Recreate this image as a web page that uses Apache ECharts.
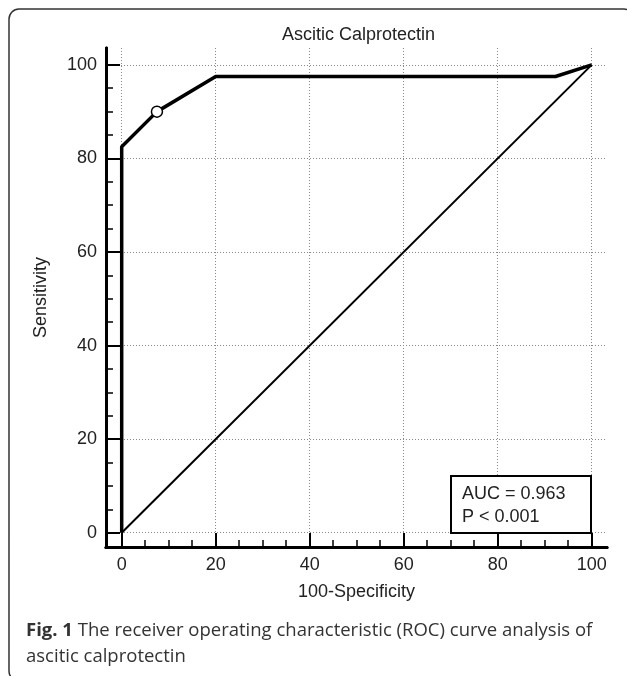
<!DOCTYPE html>
<html>
<head>
<meta charset="utf-8">
<script src="https://cdn.jsdelivr.net/npm/echarts@6/dist/echarts.min.js"></script>
<style>
  html, body { margin: 0; padding: 0; background: #fff; }
  #roc_chart { width: 627px; height: 676px; }
</style>
</head>
<body>
<div id="roc_chart"></div>
<script>
// ROC curve points: [100-Specificity, Sensitivity]
var rocX = [0, 0, 7.5, 20, 92.3, 100];
var rocY = [0, 82.5, 90, 97.5, 97.5, 100];
// reference diagonal
var diagX = [0, 100];
var diagY = [0, 100];
// selected cut-off point
var cutX = [7.5];
var cutY = [90];
var majorTicks = [0, 20, 40, 60, 80, 100];
var minorTicks = [];
for (var t = 0; t <= 100; t += 5) minorTicks.push(t);

var roc_chart = echarts.init(document.getElementById("roc_chart"));

function pairs(xs, ys) {
  return xs.map(function (x, i) { return [x, ys[i]]; });
}

var labelStyle = {
  color: "#222",
  fontFamily: "Liberation Sans, Arial",
  fontSize: 18,
};

function makeAxis(opts) {
  return Object.assign(
    {
      type: "value",
      axisLine: { show: true, onZero: false, lineStyle: { color: "#000", width: 3 } },
      axisLabel: { show: false },
      axisTick: { show: false },
      splitLine: { show: false },
    },
    opts
  );
}

var xMin = -3.34, xMax = 103.26;
var yMin = -3.06, yMax = 103.6;

var option = {
  animation: false,
  title: {
    text: "Ascitic Calprotectin",
    left: 277,
    top: 21,
    textStyle: { color: "#222", fontFamily: "Liberation Sans, Arial", fontSize: 18, fontWeight: "normal" },
  },
  grid: { left: 106, right: 20, top: 48, bottom: 129 },
  xAxis: [
    makeAxis({
      min: xMin, max: xMax, position: "bottom",
      name: "100-Specificity", nameLocation: "middle", nameGap: 36,
      nameTextStyle: labelStyle,
      axisLabel: Object.assign({ show: true, margin: 9, customValues: majorTicks }, labelStyle),
      axisTick: { show: true, inside: true, length: 14, customValues: majorTicks, lineStyle: { color: "#000", width: 2 } },
      splitLine: { show: true, lineStyle: { color: "#888", type: [1, 2], width: 1 } },
    }),
    makeAxis({
      min: xMin, max: xMax, position: "bottom",
      axisTick: { show: true, inside: true, length: 7, customValues: minorTicks, lineStyle: { color: "#000", width: 1.5 } },
    }),
  ],
  yAxis: [
    makeAxis({
      min: yMin, max: yMax, position: "left",
      name: "Sensitivity", nameLocation: "middle", nameGap: 56,
      nameTextStyle: labelStyle,
      axisLabel: Object.assign({ show: true, margin: 9, customValues: majorTicks }, labelStyle),
      axisTick: { show: true, inside: true, length: 14, customValues: majorTicks, lineStyle: { color: "#000", width: 2 } },
      splitLine: { show: true, lineStyle: { color: "#888", type: [1, 2], width: 1 } },
    }),
    makeAxis({
      min: yMin, max: yMax, position: "left",
      axisTick: { show: true, inside: true, length: 7, customValues: minorTicks, lineStyle: { color: "#000", width: 1.5 } },
    }),
  ],
  series: [
    {
      name: "diagonal",
      type: "line",
      data: pairs(diagX, diagY),
      symbol: "none",
      lineStyle: { color: "#000", width: 2 },
      z: 3,
    },
    {
      name: "ROC",
      type: "line",
      data: pairs(rocX, rocY),
      symbol: "none",
      lineStyle: { color: "#000", width: 3.5 },
      z: 4,
    },
    {
      name: "cut-off",
      type: "scatter",
      data: pairs(cutX, cutY),
      symbol: "circle",
      symbolSize: 11,
      itemStyle: { color: "#fff", borderColor: "#000", borderWidth: 1.5, opacity: 1 },
      z: 5,
    },
  ],
  graphic: [
    {
      type: "rect",
      shape: { x: 9, y: 9, width: 625, height: 672, r: 10 },
      style: { fill: null, stroke: "#333", lineWidth: 1.5 },
      silent: true,
    },
    {
      type: "rect",
      z: 100,
      shape: { x: 451, y: 476, width: 140, height: 57 },
      style: { fill: "#fff", stroke: "#000", lineWidth: 2 },
    },
    {
      type: "text",
      z: 101,
      x: 462,
      y: 483,
      style: {
        text: "AUC = 0.963\nP < 0.001",
        fill: "#222",
        font: "18px Liberation Sans, Arial",
        lineHeight: 23,
      },
    },
    {
      type: "text",
      left: 26,
      top: 618,
      style: {
        text: "{b|Fig. 1} The receiver operating characteristic (ROC) curve analysis of\nascitic calprotectin",
        fill: "#333",
        font: "18.5px Open Sans",
        lineHeight: 26,
        rich: {
          b: { fontWeight: "bold", fontFamily: "Open Sans", fontSize: 18.5, fill: "#333", lineHeight: 26 },
        },
      },
    },
  ],
};
roc_chart.setOption(option);
</script>
</body>
</html>
